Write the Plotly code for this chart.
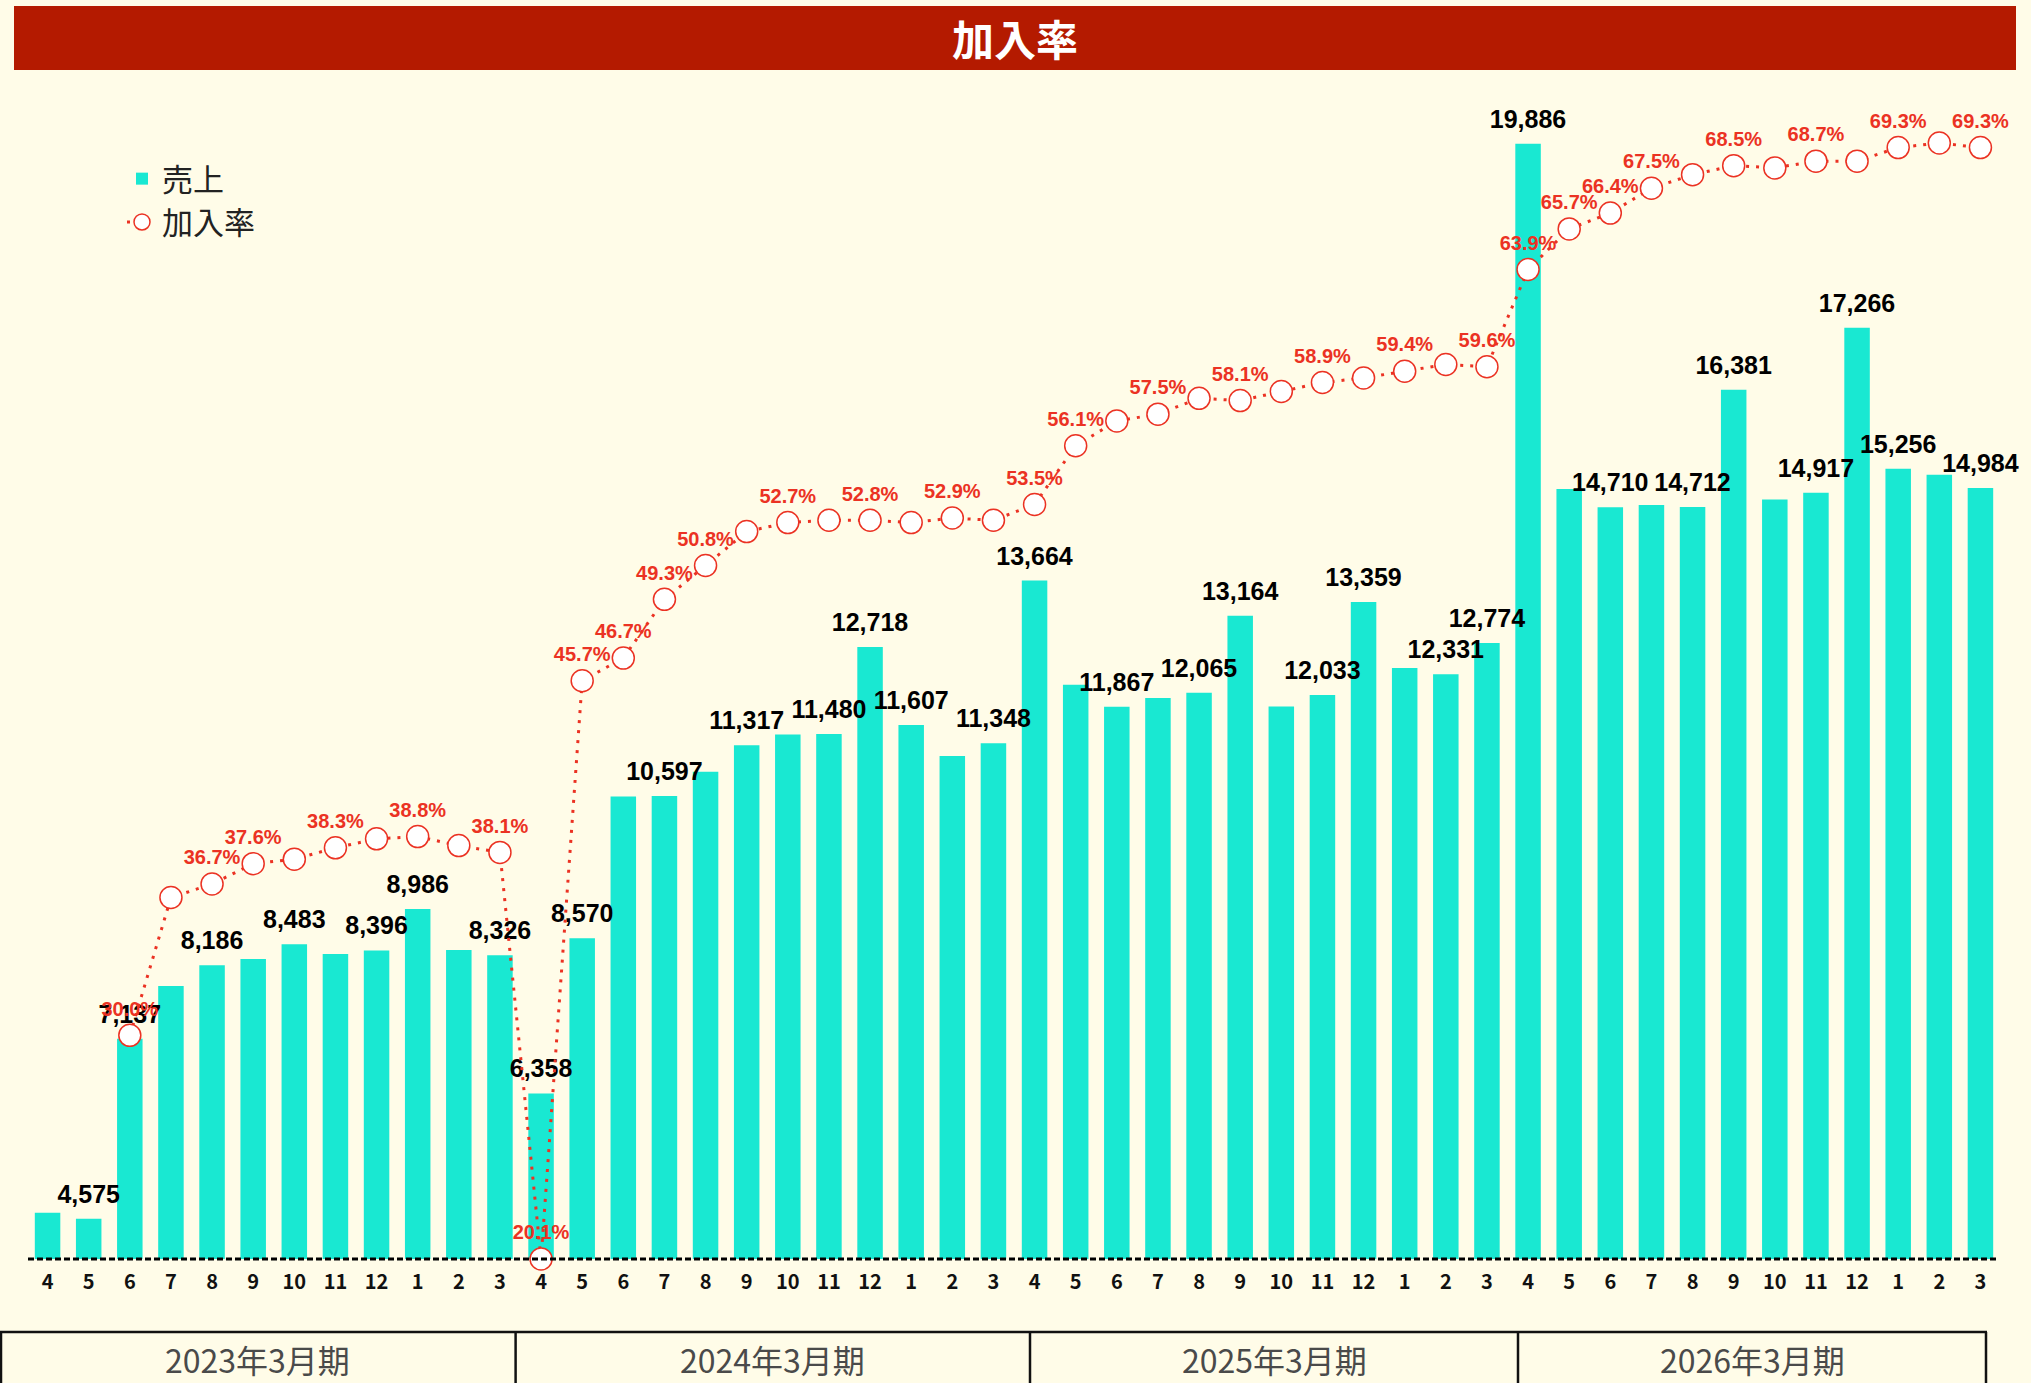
import plotly.graph_objects as go

# ---------------- data ----------------
periods = ["2023年3月期", "2024年3月期", "2025年3月期", "2026年3月期"]
months = ["4", "5", "6", "7", "8", "9", "10", "11", "12", "1", "2", "3"]

sales_2023 = [4660, 4575, 7137, 7890, 8186, 8274, 8483, 8345, 8396, 8986, 8400, 8326]
sales_2024 = [6358, 8570, 10590, 10597, 10940, 11317, 11470, 11480, 12718, 11607, 11165, 11348]
sales_2025 = [13664, 12180, 11867, 11990, 12065, 13164, 11870, 12033, 13359, 12420, 12331, 12774]
sales_2026 = [19886, 14970, 14710, 14740, 14712, 16381, 14820, 14917, 17266, 15256, 15170, 14984]

rate_2023 = [None, None, 30.0, 36.1, 36.7, 37.6, 37.8, 38.3, 38.7, 38.8, 38.4, 38.1]
rate_2024 = [20.1, 45.7, 46.7, 49.3, 50.8, 52.3, 52.7, 52.8, 52.8, 52.7, 52.9, 52.8]
rate_2025 = [53.5, 56.1, 57.2, 57.5, 58.2, 58.1, 58.5, 58.9, 59.1, 59.4, 59.7, 59.6]
rate_2026 = [63.9, 65.7, 66.4, 67.5, 68.1, 68.5, 68.4, 68.7, 68.7, 69.3, 69.5, 69.3]

# which value labels are visible in the original (others are hidden by overlap)
sales_label_2023 = [0, 1, 1, 0, 1, 0, 1, 0, 1, 1, 0, 1]
sales_label_2024 = [1, 1, 0, 1, 0, 1, 0, 1, 1, 1, 0, 1]
sales_label_2025 = [1, 0, 1, 0, 1, 1, 0, 1, 1, 0, 1, 1]
sales_label_2026 = [1, 0, 1, 0, 1, 1, 0, 1, 1, 1, 0, 1]

rate_label_2023 = [0, 0, 1, 0, 1, 1, 0, 1, 0, 1, 0, 1]
rate_label_2024 = [1, 1, 1, 1, 1, 0, 1, 0, 1, 0, 1, 0]
rate_label_2025 = [1, 1, 0, 1, 0, 1, 0, 1, 0, 1, 0, 1]
rate_label_2026 = [1, 1, 1, 1, 0, 1, 0, 1, 0, 1, 0, 1]

# ---------------- assemble ----------------
sales = sales_2023 + sales_2024 + sales_2025 + sales_2026
rates = rate_2023 + rate_2024 + rate_2025 + rate_2026
sales_show = sales_label_2023 + sales_label_2024 + sales_label_2025 + sales_label_2026
rate_show = rate_label_2023 + rate_label_2024 + rate_label_2025 + rate_label_2026
categories = [f"{p} {m}月" for p in periods for m in months]
tick_text = months * len(periods)

sales_text = [f"{v:,}" if s else "" for v, s in zip(sales, sales_show)]
rate_text = [f"{v:.1f}%" if (s and v is not None) else "" for v, s in zip(rates, rate_show)]

# ---------------- style ----------------
W, H = 2031, 1383
ML, MR, MT, MB = 27, 30, 75, 124
PW, PH = W - ML - MR, H - MT - MB

BG = "#FFFCE8"
TEAL = "#19E8D2"
RED = "#EB3223"
TITLE_RED = "#B41A00"
NUM_FONT = "Liberation Sans, Arial, sans-serif"
JP_FONT = "Noto Sans CJK JP, sans-serif"

SALES_MIN, SALES_PX = 4000, 0.0702      # px per unit
RATE_MIN, RATE_PX = 20.1, 22.59         # px per %


def px_x(px):
    return (px - ML) / PW


def px_y(py):
    return (H - MB - py) / PH


fig = go.Figure()

fig.add_trace(go.Bar(
    x=categories, y=sales, name="売上",
    marker=dict(color=TEAL, line=dict(width=0)),
    yaxis="y", hoverinfo="x+y",
))

# value labels of the bars, drawn above every bar
fig.add_trace(go.Scatter(
    x=categories, y=sales, yaxis="y", mode="markers+text", showlegend=False,
    marker=dict(size=14, opacity=0),
    text=sales_text, textposition="top center",
    textfont=dict(family=NUM_FONT, size=25, color="#000000", weight="bold"),
    cliponaxis=False, hoverinfo="skip",
))

fig.add_trace(go.Scatter(
    x=categories, y=rates, name="加入率", yaxis="y2",
    mode="lines+markers+text",
    line=dict(color=RED, width=3, dash="3px,7px"),
    marker=dict(symbol="circle", size=22, color="#FFFFFF", line=dict(color=RED, width=1.5)),
    text=rate_text, textposition="top center",
    textfont=dict(family=NUM_FONT, size=20, color=RED, weight="bold"),
    cliponaxis=False, connectgaps=False,
))

shapes = []
# title bar
shapes.append(dict(type="rect", xref="paper", yref="paper",
                   x0=px_x(14), x1=px_x(2016), y0=px_y(70), y1=px_y(6),
                   fillcolor=TITLE_RED, line=dict(width=0), layer="below"))
# dashed baseline
shapes.append(dict(type="line", xref="paper", yref="paper",
                   x0=px_x(28), x1=px_x(1999), y0=0, y1=0,
                   line=dict(color="#000000", width=3, dash="6px,3px"), layer="above"))
# period table
table_top, table_bot = px_y(1332), px_y(1420)
shapes.append(dict(type="line", xref="paper", yref="paper",
                   x0=px_x(0), x1=px_x(1987), y0=table_top, y1=table_top,
                   line=dict(color="#111111", width=2.5)))
for xv in [1, 515.6, 1030, 1518, 1986]:
    shapes.append(dict(type="line", xref="paper", yref="paper",
                       x0=px_x(xv), x1=px_x(xv), y0=table_top, y1=table_bot,
                       line=dict(color="#111111", width=2.5)))

annotations = [dict(text="加入率", xref="paper", yref="paper", x=px_x(1015), y=px_y(37),
                    showarrow=False, xanchor="center", yanchor="middle",
                    font=dict(family=JP_FONT, size=42, color="#FFFFFF", weight="bold"))]
for p, cx in zip(periods, [257, 772, 1274, 1752]):
    annotations.append(dict(text=p, xref="paper", yref="paper", x=px_x(cx), y=px_y(1359),
                            showarrow=False, xanchor="center", yanchor="middle",
                            font=dict(family=JP_FONT, size=32, color="#4A4A4A")))

fig.update_layout(
    width=W, height=H,
    margin=dict(l=ML, r=MR, t=MT, b=MB, autoexpand=False),
    paper_bgcolor=BG, plot_bgcolor=BG,
    bargap=0.38,
    showlegend=True,
    legend=dict(x=px_x(122), y=px_y(152), xanchor="left", yanchor="top",
                bgcolor="rgba(0,0,0,0)", borderwidth=0,
                font=dict(family=JP_FONT, size=31, color="#222222"),
                itemwidth=30, tracegroupgap=0),
    xaxis=dict(type="category", categoryorder="array", categoryarray=categories,
               tickmode="array", tickvals=categories, ticktext=tick_text,
               tickfont=dict(family=JP_FONT, size=20, color="#111111", weight="bold"),
               ticks="outside", ticklen=5, tickcolor="rgba(0,0,0,0)",
               showline=False, showgrid=False, zeroline=False, automargin=False,
               range=[-0.5, len(categories) - 0.5]),
    yaxis=dict(range=[SALES_MIN, SALES_MIN + PH / SALES_PX], visible=False,
               showgrid=False, zeroline=False, fixedrange=True),
    yaxis2=dict(range=[RATE_MIN, RATE_MIN + PH / RATE_PX], overlaying="y", side="right",
                visible=False, showgrid=False, zeroline=False),
    shapes=shapes,
    annotations=annotations,
)

fig.write_html("out.html",
               config={"displayModeBar": False},
               post_script="document.body.style.margin='0px';document.body.style.overflow='hidden';")
